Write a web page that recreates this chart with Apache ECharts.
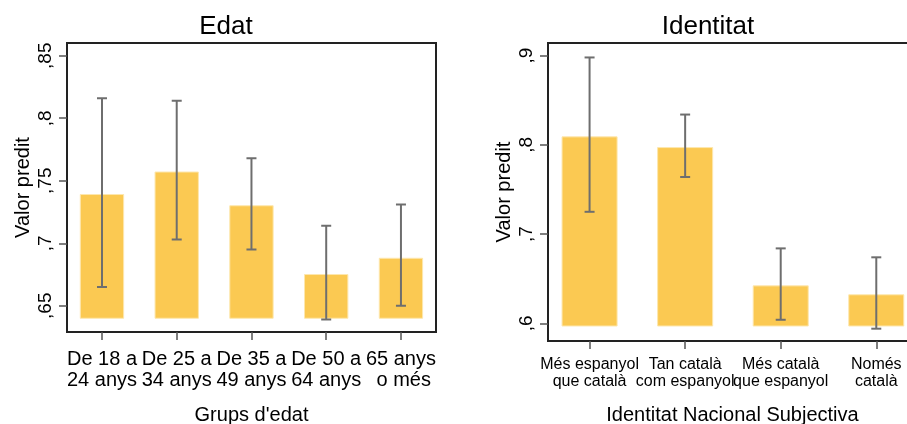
<!DOCTYPE html>
<html>
<head>
<meta charset="utf-8">
<script src="https://cdn.jsdelivr.net/npm/echarts@6/dist/echarts.min.js"></script>
<style>
  html, body { margin: 0; padding: 0; background: #fff; }
  #chart { width: 907px; height: 424px; }
</style>
</head>
<body>
<div id="chart"></div>
<script>
// Edat (left panel)
const edatCats = ['De 18 a\n24 anys', 'De 25 a\n34 anys', 'De 35 a\n49 anys', 'De 50 a\n64 anys', '65 anys\n o més'];
const edatPred = [0.739, 0.757, 0.730, 0.675, 0.688];
const edatLo = [0.665, 0.703, 0.695, 0.639, 0.650];
const edatHi = [0.816, 0.814, 0.768, 0.714, 0.731];
const edatBase = 0.64;
const edatTicks = [0.65, 0.7, 0.75, 0.8, 0.85];

// Identitat (right panel)
const identCats = ['Més espanyol\nque català', 'Tan català\ncom espanyol', 'Més català\nque espanyol', 'Només\ncatalà'];
const identPred = [0.809, 0.797, 0.642, 0.632];
const identLo = [0.725, 0.764, 0.604, 0.594];
const identHi = [0.898, 0.834, 0.684, 0.674];
const identBase = 0.597;
const identTicks = [0.6, 0.7, 0.8, 0.9];

const FONT = 'Liberation Sans, Arial, sans-serif';
const BAR = '#fbc952';
const ERR = '#6e6e6e';

function rows(pred, lo, hi) {
  return pred.map((v, i) => [i, v, lo[i], hi[i]]);
}

// stata style tick label: ,85 ,7 ...
function commaLabel(v) {
  return ',' + v.toFixed(2).replace(/0$/, '').slice(2);
}

function barSeries(xi, yi, data, base, frac) {
  return {
    type: 'custom',
    xAxisIndex: xi, yAxisIndex: yi,
    data: data,
    encode: { x: 0, y: [1, 2, 3] },
    renderItem: function (params, api) {
      const x = api.value(0);
      const top = api.coord([x, api.value(1)]);
      const bot = api.coord([x, base]);
      const w = api.size([1, 0])[0] * frac;
      return {
        type: 'rect',
        shape: { x: top[0] - w / 2, y: top[1], width: w, height: bot[1] - top[1] },
        style: { fill: BAR, stroke: '#fde7ae', lineWidth: 1 }
      };
    }
  };
}

function errSeries(xi, yi, data) {
  return {
    type: 'custom',
    xAxisIndex: xi, yAxisIndex: yi,
    data: data,
    encode: { x: 0, y: [1, 2, 3] },
    z: 5,
    renderItem: function (params, api) {
      const x = api.value(0);
      const lo = api.coord([x, api.value(2)]);
      const hi = api.coord([x, api.value(3)]);
      const cap = 5;
      const st = { stroke: ERR, lineWidth: 2 };
      return {
        type: 'group',
        children: [
          { type: 'line', shape: { x1: lo[0], y1: lo[1], x2: hi[0], y2: hi[1] }, style: st },
          { type: 'line', shape: { x1: hi[0] - cap, y1: hi[1], x2: hi[0] + cap, y2: hi[1] }, style: st },
          { type: 'line', shape: { x1: lo[0] - cap, y1: lo[1], x2: lo[0] + cap, y2: lo[1] }, style: st }
        ]
      };
    }
  };
}

// vals = which category indices this axis labels (the right panel needs two
// axes because echarts drops overlapping neighbours)
function xAxis(idx, cats, vals, min, max, labelSize, lineH, margin, name, nameGap, namePad) {
  return {
    type: 'value', gridIndex: idx, min: min, max: max, position: 'bottom',
    splitLine: { show: false },
    axisLine: { show: false, onZero: false },
    axisTick: { show: true, length: 8, customValues: vals, lineStyle: { color: '#555', width: 1.5 } },
    axisLabel: {
      customValues: vals, margin: margin, hideOverlap: false,
      showMinLabel: true, showMaxLabel: true,
      fontFamily: FONT, fontSize: labelSize, lineHeight: lineH, color: '#000',
      formatter: v => cats[Math.round(v)]
    },
    name: name, nameLocation: 'middle', nameGap: nameGap,
    nameTextStyle: { fontFamily: FONT, fontSize: 20, color: '#000', padding: namePad || 0 }
  };
}

function yAxis(idx, ticks, min, max) {
  return {
    type: 'value', gridIndex: idx, min: min, max: max, position: 'left',
    splitLine: { show: false },
    axisLine: { show: false, onZero: false },
    axisTick: { show: true, length: 8, customValues: ticks, lineStyle: { color: '#555', width: 1.5 } },
    axisLabel: {
      customValues: ticks, rotate: 90, margin: 12,
      fontFamily: FONT, fontSize: 19, color: '#000',
      formatter: commaLabel
    },
    name: 'Valor predit', nameLocation: 'middle', nameGap: 34,
    nameTextStyle: { fontFamily: FONT, fontSize: 20, color: '#000' }
  };
}

const identMin = -0.435, identMax = 3.583;

const myChart = echarts.init(document.getElementById('chart'));
myChart.setOption({
  animation: false,
  backgroundColor: '#fff',
  title: [
    { text: 'Edat', left: 221, top: 9, textAlign: 'center', textStyle: { fontFamily: FONT, fontSize: 26, fontWeight: 'normal', color: '#000' } },
    { text: 'Identitat', left: 703, top: 9, textAlign: 'center', textStyle: { fontFamily: FONT, fontSize: 26, fontWeight: 'normal', color: '#000' } }
  ],
  grid: [
    { left: 67, top: 43, width: 369, height: 289, outerBoundsMode: 'none', show: true, borderColor: '#222', borderWidth: 2, backgroundColor: 'transparent' },
    { left: 548, top: 43, width: 384, height: 298, outerBoundsMode: 'none', show: true, borderColor: '#222', borderWidth: 2, backgroundColor: 'transparent' }
  ],
  xAxis: [
    xAxis(0, edatCats, [0, 1, 2, 3, 4], -0.468, 4.469, 20, 21, 17, "Grups d'edat", 73),
    xAxis(1, identCats, [0, 2], identMin, identMax, 16, 17, 15, 'Identitat Nacional Subjectiva', 64, [0, 15, 0, 0]),
    xAxis(1, identCats, [1, 3], identMin, identMax, 16, 17, 15, '', 64)
  ],
  yAxis: [
    yAxis(0, edatTicks, 0.629, 0.8602),
    yAxis(1, identTicks, 0.5802, 0.9142)
  ],
  series: [
    barSeries(0, 0, rows(edatPred, edatLo, edatHi), edatBase, 0.58),
    errSeries(0, 0, rows(edatPred, edatLo, edatHi)),
    barSeries(1, 1, rows(identPred, identLo, identHi), identBase, 0.576),
    errSeries(1, 1, rows(identPred, identLo, identHi))
  ]
});
</script>
</body>
</html>
